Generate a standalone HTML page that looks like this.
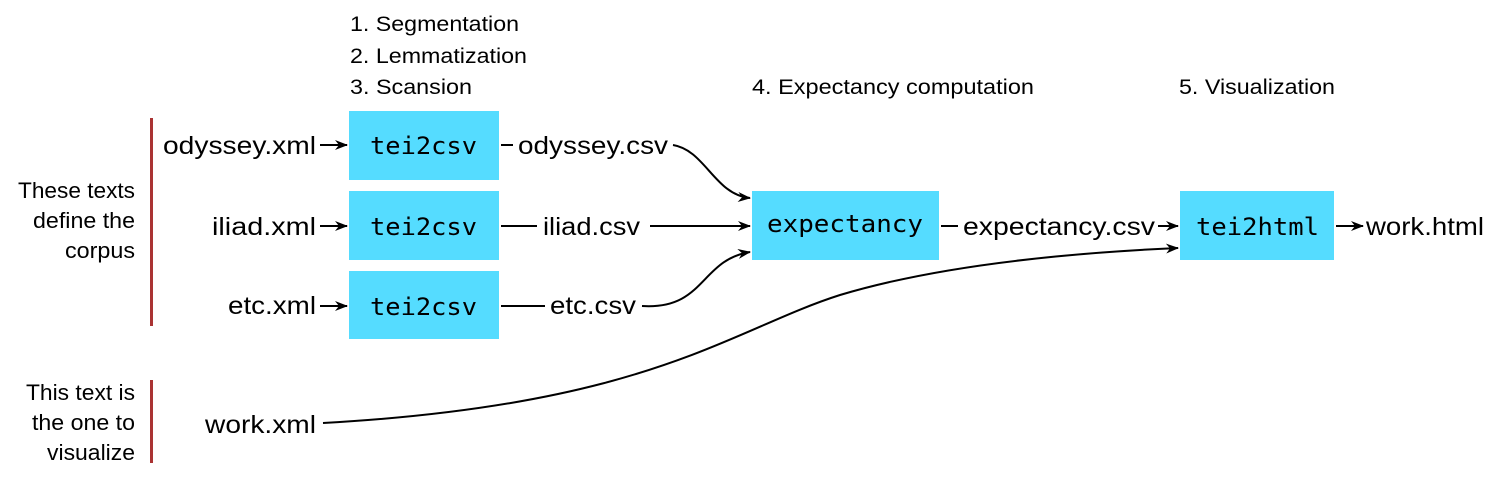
<!DOCTYPE html>
<html><head><meta charset="utf-8"><style>
html,body{margin:0;padding:0;background:#fff;}
svg{display:block;}
.s{font-family:"Liberation Sans",Helvetica,sans-serif;fill:#000;}
.m{font-family:"DejaVu Sans Mono","Liberation Mono",monospace;fill:#000;}
</style></head><body>
<svg width="1500" height="480" viewBox="0 0 1500 480" xmlns="http://www.w3.org/2000/svg">
<defs><marker id="a" markerWidth="13" markerHeight="10" refX="12" refY="5" orient="auto" markerUnits="userSpaceOnUse"><path d="M0,0 L13,5 L0,10 L4,5 z" fill="#000"/></marker></defs>
<g class="s" font-size="21">
<text x="350" y="31" textLength="169" lengthAdjust="spacingAndGlyphs">1. Segmentation</text>
<text x="350" y="63" textLength="177" lengthAdjust="spacingAndGlyphs">2. Lemmatization</text>
<text x="350" y="94" textLength="122" lengthAdjust="spacingAndGlyphs">3. Scansion</text>
<text x="752" y="94" textLength="282" lengthAdjust="spacingAndGlyphs">4. Expectancy computation</text>
<text x="1179" y="94" textLength="156" lengthAdjust="spacingAndGlyphs">5. Visualization</text>
</g>
<g class="s" font-size="22">
<text x="18" y="198" textLength="117" lengthAdjust="spacingAndGlyphs">These texts</text>
<text x="33" y="228" textLength="102" lengthAdjust="spacingAndGlyphs">define the</text>
<text x="65" y="258" textLength="70" lengthAdjust="spacingAndGlyphs">corpus</text>
<text x="26" y="400" textLength="109" lengthAdjust="spacingAndGlyphs">This text is</text>
<text x="32" y="430" textLength="103" lengthAdjust="spacingAndGlyphs">the one to</text>
<text x="47" y="460" textLength="88" lengthAdjust="spacingAndGlyphs">visualize</text>
</g>
<rect x="150" y="118" width="3" height="208" fill="#a33"/>
<rect x="150" y="380" width="3" height="83" fill="#a33"/>
<g fill="#55dcff">
<rect x="349" y="111" width="150" height="69"/>
<rect x="349" y="191" width="150" height="69"/>
<rect x="349" y="271" width="150" height="68"/>
<rect x="752" y="191" width="187" height="69"/>
<rect x="1180" y="191" width="154" height="69"/>
</g>
<g class="m" font-size="24">
<text x="370" y="154" textLength="107" lengthAdjust="spacingAndGlyphs">tei2csv</text>
<text x="370" y="235" textLength="107" lengthAdjust="spacingAndGlyphs">tei2csv</text>
<text x="370" y="315" textLength="107" lengthAdjust="spacingAndGlyphs">tei2csv</text>
<text x="767" y="232" textLength="156" lengthAdjust="spacingAndGlyphs">expectancy</text>
<text x="1196" y="235" textLength="123" lengthAdjust="spacingAndGlyphs">tei2html</text>
</g>
<g class="s" font-size="25">
<text x="163" y="154" textLength="153" lengthAdjust="spacingAndGlyphs">odyssey.xml</text>
<text x="212" y="235" textLength="104" lengthAdjust="spacingAndGlyphs">iliad.xml</text>
<text x="228" y="314" textLength="88" lengthAdjust="spacingAndGlyphs">etc.xml</text>
<text x="205" y="433" textLength="111" lengthAdjust="spacingAndGlyphs">work.xml</text>
<text x="518" y="154" textLength="150" lengthAdjust="spacingAndGlyphs">odyssey.csv</text>
<text x="543" y="235" textLength="97" lengthAdjust="spacingAndGlyphs">iliad.csv</text>
<text x="550" y="314" textLength="86" lengthAdjust="spacingAndGlyphs">etc.csv</text>
<text x="963" y="235" textLength="192" lengthAdjust="spacingAndGlyphs">expectancy.csv</text>
<text x="1366" y="235" textLength="118" lengthAdjust="spacingAndGlyphs">work.html</text>
</g>
<g stroke="#000" stroke-width="2" fill="none">
<line x1="320" y1="145" x2="347" y2="145" marker-end="url(#a)"/>
<line x1="320" y1="226" x2="347" y2="226" marker-end="url(#a)"/>
<line x1="320" y1="306" x2="347" y2="306" marker-end="url(#a)"/>
<line x1="501" y1="145" x2="513" y2="145"/>
<line x1="501" y1="226" x2="537" y2="226"/>
<line x1="501" y1="306" x2="545" y2="306"/>
<path d="M673,145 C705,150 715,195 750,198" marker-end="url(#a)"/>
<line x1="650" y1="226" x2="750" y2="226" marker-end="url(#a)"/>
<path d="M642,306 C705,310 700,260 750,252" marker-end="url(#a)"/>
<line x1="941" y1="226" x2="958" y2="226"/>
<line x1="1158" y1="226" x2="1178" y2="226" marker-end="url(#a)"/>
<line x1="1336" y1="226" x2="1363" y2="226" marker-end="url(#a)"/>
<path d="M323,423 C650,405 730,330 840,295 C950,262 1090,252 1178,248" marker-end="url(#a)"/>
</g>
</svg>
</body></html>
